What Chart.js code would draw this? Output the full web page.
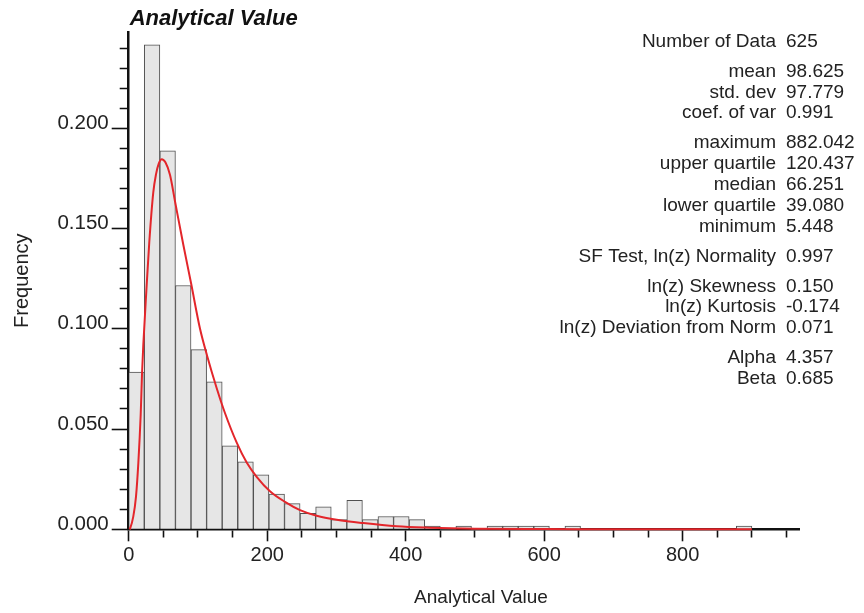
<!DOCTYPE html>
<html><head><meta charset="utf-8">
<script src="https://cdn.jsdelivr.net/npm/chart.js@4.4.1/dist/chart.umd.min.js"></script>
<style>html,body{margin:0;padding:0;background:#fff}#wrap{width:864px;height:613px}</style>
</head><body><div id="wrap"><canvas id="c" width="864" height="613"></canvas></div>
<script>
// ---- data ----
const binCenters = [11.25, 33.75, 56.25, 78.75, 101.25, 123.75, 146.25, 168.75, 191.25, 213.75,
  236.25, 258.75, 281.25, 303.75, 326.25, 348.75, 371.25, 393.75, 416.25, 438.75,
  461.25, 483.75, 506.25, 528.75, 551.25, 573.75, 596.25, 618.75, 641.25, 663.75,
  686.25, 708.75, 731.25, 753.75, 776.25, 798.75, 821.25, 843.75, 866.25, 888.75];
const frequency = [0.0784, 0.2416, 0.1888, 0.1216, 0.0896, 0.0736, 0.0416, 0.0336, 0.0272, 0.0176,
  0.0128, 0.0080, 0.0112, 0.0048, 0.0144, 0.0048, 0.0064, 0.0064, 0.0048, 0.0016,
  0, 0.0016, 0, 0.0016, 0.0016, 0.0016, 0.0016, 0, 0.0016, 0,
  0, 0, 0, 0, 0, 0, 0, 0, 0, 0.0016];
const curveX = [1, 2, 6.6, 10.5, 13.9, 17.3, 19.2, 21.1, 25.5, 29.7, 35.5, 39.4, 43.5, 47.7, 53, 59.6, 66.9,
  78.8, 90, 103, 113.5, 127, 139, 156, 170.4, 184.8, 204, 225.7, 247.4, 271.5, 300.4, 338.8, 387, 435, 500, 600, 700, 900];
const curveY = [0, 0.0004, 0.0063, 0.0162, 0.0330, 0.0570, 0.0770, 0.0920, 0.1190, 0.1430, 0.1680, 0.1770, 0.1825, 0.1846, 0.1830, 0.1768, 0.1635,
  0.1420, 0.1228, 0.1000, 0.0862, 0.0705, 0.0580, 0.0432, 0.0333, 0.0262, 0.0190, 0.0137, 0.0096, 0.0068, 0.0048, 0.0031, 0.0015, 0.0008, 0.0003, 0.0001, 0.00005, 0];
const xTickLabels = ['0', '200', '400', '600', '800'];
const yTickLabels = ['0.000', '0.050', '0.100', '0.150', '0.200'];
const chartTitle = 'Analytical Value';
const xTitle = 'Analytical Value';
const yTitle = 'Frequency';
const statGroups = [
  [['Number of Data', '625']],
  [['mean', '98.625'], ['std. dev', '97.779'], ['coef. of var', '0.991']],
  [['maximum', '882.042'], ['upper quartile', '120.437'], ['median', '66.251'], ['lower quartile', '39.080'], ['minimum', '5.448']],
  [['SF Test, ln(z) Normality', '0.997']],
  [['ln(z) Skewness', '0.150'], ['ln(z) Kurtosis', '-0.174'], ['ln(z) Deviation from Norm', '0.071']],
  [['Alpha', '4.357'], ['Beta', '0.685']]
];

// ---- chart ----
const FONT = "'Liberation Sans', Arial, Helvetica, sans-serif";
const textPlugin = {
  id: 'texts',
  afterDraw(chart) {
    const ctx = chart.ctx;
    const area = chart.chartArea;
    ctx.save();
    ctx.fillStyle = '#111';
    ctx.textBaseline = 'middle';
    ctx.font = "italic bold 22px " + FONT;
    ctx.textAlign = 'left';
    ctx.fillText(chartTitle, area.left + 1, 19);
    ctx.font = "19px " + FONT;
    ctx.textAlign = 'center';
    ctx.fillStyle = '#222';
    ctx.fillText(xTitle, 481, 598);
    // stats
    ctx.font = "19px " + FONT;
    const lineH = 20.8, groupH = 30;
    let y = 41.5;
    statGroups.forEach((g, gi) => {
      if (gi > 0) y += groupH - lineH;
      g.forEach(([lab, val]) => {
        ctx.textAlign = 'right';
        ctx.fillText(lab, 776, y);
        ctx.textAlign = 'left';
        ctx.fillText(val, 786, y);
        y += lineH;
      });
    });
    ctx.restore();
  }
};

new Chart(document.getElementById('c'), {
  data: {
    datasets: [
      {
        type: 'line',
        data: curveX.map((x, i) => ({x: x, y: curveY[i]})),
        borderColor: '#e3262b',
        borderWidth: 2,
        pointRadius: 0,
        cubicInterpolationMode: 'monotone',
        clip: false,
        order: 0
      },
      {
        type: 'bar',
        data: binCenters.map((x, i) => ({x: x, y: frequency[i]})),
        backgroundColor: '#e6e6e6',
        borderColor: '#505050',
        borderWidth: c => (c.raw && c.raw.y > 0 ? 1 : 0),
        barPercentage: 1,
        categoryPercentage: 1,
        grouped: false,
        order: 1
      }
    ]
  },
  options: {
    responsive: false,
    animation: false,
    devicePixelRatio: 1,
    layout: {padding: {left: 0, top: 32, right: 65, bottom: 0}},
    plugins: {legend: {display: false}, tooltip: {enabled: false}, title: {display: false}},
    scales: {
      x: {
        type: 'linear', position: 'bottom', min: 0, max: 968, offset: false,
        afterFit(s) { s.height = 83.7; },
        grid: {
          offset: false,
          drawOnChartArea: false, drawTicks: true, tickLength: 12, tickColor: '#111', tickWidth: 1.6,
          tickBorderDash: c => (c.tick && Math.round(c.tick.value) % 200 === 0 ? [] : [7, 100])
        },
        border: {color: '#111', width: 2.5},
        ticks: {
          stepSize: 50, includeBounds: false, autoSkip: false, maxRotation: 0, minRotation: 0, padding: 2,
          color: '#222', font: {family: FONT, size: 20},
          callback: v => {
            const r = Math.round(v);
            return r % 200 === 0 ? xTickLabels[r / 200] : '';
          }
        }
      },
      y: {
        type: 'linear', position: 'left', min: 0, max: 0.248,
        afterFit(s) { s.width = 128.7; },
        grid: {
          drawOnChartArea: false, drawTicks: true, tickLength: 17, tickColor: '#111', tickWidth: 1.6,
          tickBorderDash: c => (c.tick && Math.round(c.tick.value * 100) % 5 === 0 ? [] : [0, 8, 100, 0])
        },
        border: {color: '#111', width: 2.5},
        title: {display: true, text: yTitle, color: '#222', font: {family: FONT, size: 20}, padding: {top: 10.5, bottom: 0}},
        ticks: {
          stepSize: 0.01, includeBounds: false, autoSkip: false, padding: 3, labelOffset: -5,
          color: '#222', font: {family: FONT, size: 20.5},
          callback: v => {
            const k = Math.round(v * 100);
            return k % 5 === 0 ? yTickLabels[k / 5] : '';
          }
        }
      }
    }
  },
  plugins: [textPlugin]
});
</script>
</body></html>
